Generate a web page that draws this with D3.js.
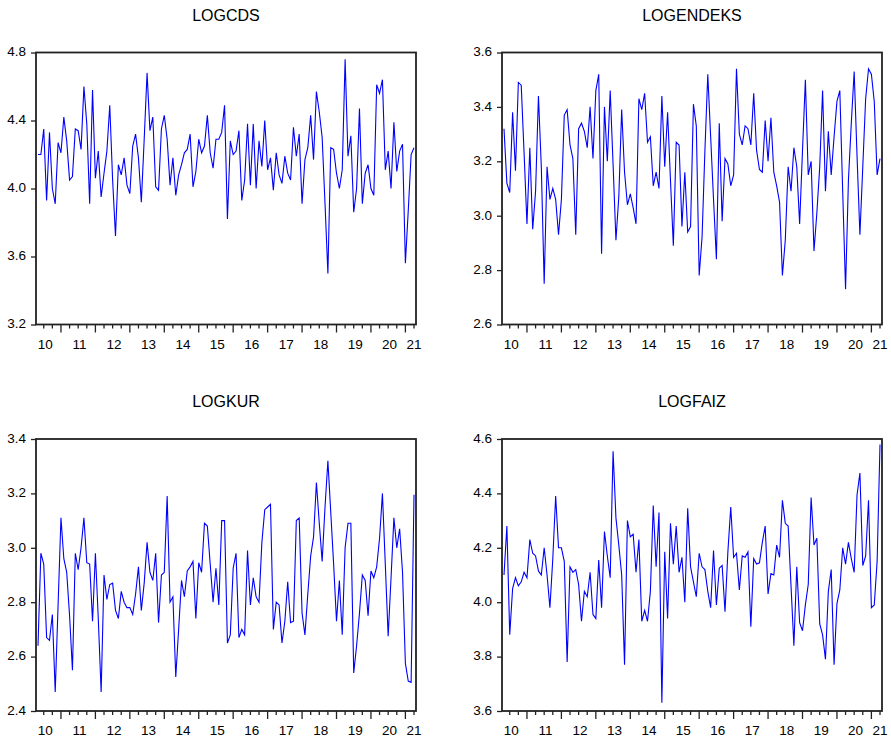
<!DOCTYPE html>
<html>
<head>
<meta charset="utf-8">
<script src="https://cdn.jsdelivr.net/npm/d3@7/dist/d3.min.js"></script>
<style>
  body { margin: 0; background: #fff; }
  svg { display: block; }
  text { font-family: Arial, "Liberation Sans", sans-serif; fill: #000; }
</style>
</head>
<body>
<script>
// monthly observations, 2010M05 .. 2021M04
const startYear = 2010;
const startMonth = 4; // 0-based, May

const logCds = [4.20,4.20,4.35,3.93,4.33,4.00,3.91,4.27,4.21,4.42,4.28,4.05,4.07,4.35,4.34,4.23,4.60,4.38,3.91,4.58,
  4.06,4.22,3.95,4.09,4.22,4.49,4.05,3.72,4.14,4.08,4.18,4.02,3.97,4.25,4.32,4.18,3.92,4.29,4.68,4.34,
  4.42,4.01,3.99,4.35,4.43,4.29,4.02,4.18,3.96,4.08,4.14,4.21,4.23,4.32,4.01,4.10,4.29,4.21,4.25,4.43,
  4.21,4.12,4.29,4.29,4.33,4.49,3.82,4.28,4.20,4.22,4.34,3.93,4.05,4.38,4.02,4.38,4.00,4.28,4.13,4.40,
  4.11,4.18,3.99,4.21,4.08,4.03,4.19,4.09,4.05,4.36,4.19,4.32,3.91,4.17,4.24,4.43,4.17,4.57,4.45,4.30,
  3.91,3.50,4.24,4.23,4.09,4.00,4.11,4.76,4.19,4.31,3.86,4.00,4.47,3.91,4.09,4.14,4.00,3.96,4.61,4.56,
  4.64,4.11,4.22,4.00,4.39,4.10,4.22,4.26,3.56,3.87,4.20,4.24];

const logEndeks = [3.32,3.12,3.085,3.38,3.165,3.49,3.48,3.23,2.97,3.25,2.95,3.09,3.44,3.18,2.75,3.18,3.06,3.10,3.06,2.93,
  3.06,3.37,3.39,3.26,3.21,2.93,3.32,3.34,3.31,3.25,3.40,3.21,3.46,3.52,2.86,3.40,3.20,3.46,3.19,2.91,
  3.07,3.39,3.16,3.04,3.08,3.03,2.97,3.43,3.39,3.45,3.27,3.29,3.11,3.16,3.10,3.44,3.18,3.38,3.13,2.89,
  3.27,3.26,2.96,3.16,2.94,2.96,3.41,3.33,2.78,2.92,3.24,3.52,3.29,3.06,2.84,3.34,2.98,3.21,3.19,3.11,
  3.15,3.54,3.30,3.26,3.33,3.32,3.26,3.45,3.24,3.17,3.16,3.35,3.20,3.36,3.16,3.11,3.05,2.78,2.91,3.18,
  3.09,3.25,3.18,2.97,3.24,3.50,3.15,3.20,2.87,3.01,3.18,3.46,3.09,3.31,3.15,3.29,3.42,3.46,3.09,2.73,
  3.13,3.34,3.53,3.22,2.93,3.18,3.43,3.54,3.52,3.42,3.15,3.21];

const logKur = [2.64,2.98,2.94,2.67,2.66,2.755,2.47,2.79,3.11,2.96,2.91,2.75,2.55,2.98,2.92,3.00,3.11,2.945,2.94,2.73,
  2.98,2.74,2.47,2.90,2.81,2.865,2.87,2.77,2.74,2.84,2.80,2.78,2.78,2.755,2.83,2.93,2.77,2.87,3.02,2.91,
  2.88,2.98,2.725,2.90,2.91,3.19,2.80,2.82,2.525,2.70,2.88,2.82,2.915,2.93,2.95,2.74,2.945,2.91,3.09,3.08,
  2.94,2.80,2.925,2.79,3.10,3.10,2.65,2.68,2.925,2.98,2.67,2.70,2.68,2.99,2.79,2.89,2.82,2.80,3.02,3.14,
  3.15,3.16,2.70,2.80,2.79,2.65,2.73,2.875,2.725,2.73,3.10,3.11,2.76,2.68,2.83,2.97,3.04,3.24,3.09,2.95,
  3.15,3.32,3.13,2.94,2.73,2.88,2.68,3.00,3.09,3.09,2.54,2.64,2.76,2.90,2.88,2.75,2.915,2.89,2.93,3.035,
  3.20,2.94,2.675,2.89,3.11,3.00,3.07,2.91,2.575,2.51,2.505,3.195];

const logFaiz = [4.10,4.28,3.88,4.05,4.09,4.06,4.075,4.11,4.09,4.23,4.18,4.17,4.115,4.10,4.20,4.10,3.98,4.16,4.39,4.20,
  4.20,4.15,3.78,4.13,4.11,4.12,4.065,3.93,4.04,4.02,4.11,3.955,3.94,4.155,3.98,4.26,4.17,4.09,4.555,4.31,
  4.21,4.10,3.77,4.30,4.24,4.25,4.11,4.23,3.93,3.97,3.93,4.04,4.355,4.13,4.33,3.63,4.185,3.94,4.29,4.14,
  4.28,4.11,4.165,4.00,4.345,4.13,4.075,4.02,4.18,4.13,4.12,4.04,3.98,4.19,3.99,4.125,4.135,3.965,4.185,4.35,
  4.165,4.18,4.045,4.17,4.165,4.185,3.91,4.16,4.14,4.145,4.22,4.28,4.03,4.105,4.10,4.21,4.165,4.375,4.29,4.28,
  4.06,3.84,4.13,3.925,3.895,3.99,4.065,4.385,4.21,4.235,3.92,3.88,3.79,4.04,4.12,3.77,3.995,4.045,4.20,4.14,
  4.22,4.16,4.11,4.395,4.475,4.135,4.17,4.375,3.98,3.99,4.15,4.58];

const titles = ['LOGCDS', 'LOGENDEKS', 'LOGKUR', 'LOGFAIZ'];
const seriesList = [logCds, logEndeks, logKur, logFaiz];
const yDomains = [[3.2, 4.8], [2.6, 3.6], [2.4, 3.4], [3.6, 4.6]];
const yTicks = [[3.2, 3.6, 4.0, 4.4, 4.8], [2.6, 2.8, 3.0, 3.2, 3.4, 3.6],
                [2.4, 2.6, 2.8, 3.0, 3.2, 3.4], [3.6, 3.8, 4.0, 4.2, 4.4, 4.6]];

const width = 891, height = 738;
const pw = 380, ph = 272;
const origins = [[36, 52.5], [502, 52.5], [36, 439], [502, 439]];

const svg = d3.select('body').append('svg')
  .attr('width', width)
  .attr('height', height);

svg.append('rect').attr('width', width).attr('height', height).attr('fill', '#fff');

const fmt = d3.format('.1f');

seriesList.forEach((values, p) => {
  const [ox, oy] = origins[p];
  const n = values.length;
  const g = svg.append('g').attr('transform', `translate(${ox},${oy})`);

  const x = d3.scaleLinear().domain([0, n - 1]).range([2, pw - 2]);
  const y = d3.scaleLinear().domain(yDomains[p]).range([ph, 0]);

  // title
  g.append('text')
    .attr('x', pw / 2)
    .attr('y', -32)
    .attr('text-anchor', 'middle')
    .style('font-size', '16px')
    .text(titles[p]);

  // line
  const line = d3.line()
    .x((d, i) => x(i))
    .y(d => y(d));

  g.append('path')
    .datum(values)
    .attr('d', line)
    .attr('fill', 'none')
    .attr('stroke', '#0000ff')
    .attr('stroke-width', 1.1)
    .attr('stroke-linejoin', 'miter');

  // y axis
  const yAxis = d3.axisLeft(y)
    .tickValues(yTicks[p])
    .tickSize(5)
    .tickPadding(5)
    .tickFormat(fmt);
  const ya = g.append('g').call(yAxis);
  ya.select('.domain').remove();
  ya.selectAll('.tick line').attr('stroke', '#222').attr('stroke-width', 1.3);
  ya.selectAll('.tick text')
    .style('font-size', '13.5px')
    .style('font-family', 'Arial, "Liberation Sans", sans-serif')
    .attr('fill', '#000')
    .attr('dy', '0.25em');

  // x ticks: quarterly, longer at each January
  const qIdx = d3.range(n).filter(i => (startMonth + i) % 3 === 0);
  g.selectAll('.xtick')
    .data(qIdx)
    .enter()
    .append('line')
    .attr('x1', i => x(i))
    .attr('x2', i => x(i))
    .attr('y1', ph)
    .attr('y2', i => ph + ((startMonth + i) % 12 === 0 ? 8 : 4))
    .attr('stroke', '#222')
    .attr('stroke-width', 1.3);

  // year labels centred in each year
  const lastYear = startYear + Math.floor((startMonth + n - 1) / 12);
  const years = d3.range(startYear, lastYear + 1);
  g.selectAll('.xlab')
    .data(years)
    .enter()
    .append('text')
    .attr('x', yr => {
      const jan = (yr - startYear) * 12 - startMonth;
      return Math.min(x(jan + 6.5), pw - 2);
    })
    .attr('y', ph + 24)
    .attr('text-anchor', 'middle')
    .style('font-size', '13.5px')
    .text(yr => String(yr % 100).padStart(2, '0'));

  // frame
  g.append('rect')
    .attr('width', pw)
    .attr('height', ph)
    .attr('fill', 'none')
    .attr('stroke', '#222')
    .attr('stroke-width', 1.8);
});
</script>
</body>
</html>
